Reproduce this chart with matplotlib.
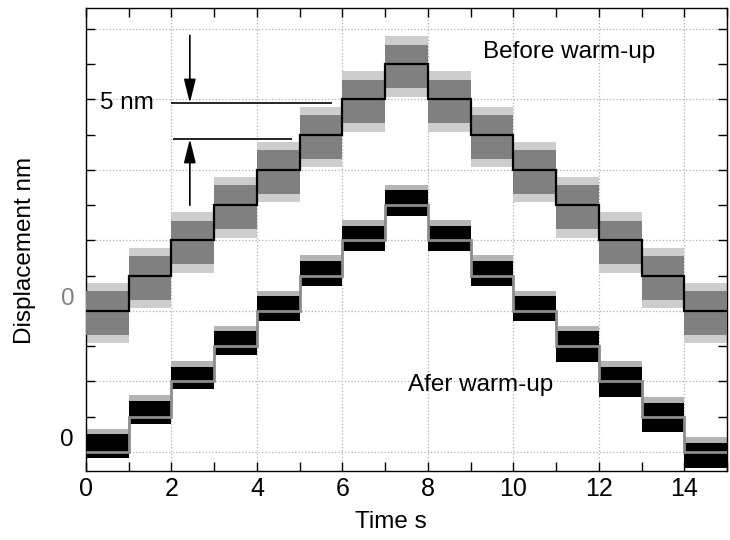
import matplotlib

matplotlib.use("Agg")
import matplotlib.pyplot as plt
import numpy as np
from matplotlib.ticker import MultipleLocator

plt.rcParams["font.family"] = ["Liberation Sans", "DejaVu Sans"]

# step edges (s) and plateau levels (nm) for the two scans
edges = [0, 1, 2, 3, 4, 5, 6, 7, 8, 9, 10, 11, 12, 13, 14, 15]
before_levels = [20, 25, 30, 35, 40, 45, 50, 55, 50, 45, 40, 35, 30, 25, 20]
after_levels = [0, 5, 10, 15, 20, 25, 30, 35, 30, 25, 20, 15, 10, 5, 0]

# noise envelope around each plateau (nm)
before_core = (-3.4, 2.8)
before_spikes = (-4.6, 4.0)
after_up = [2.5, 2.3, 2.1, 2.1, 2.1, 2.1, 2.1, 2.1, 2.1, 2.1, 2.1, 2.1, 2.1, 2.0, 1.3]
after_dn = [0.8, 1.0, 1.1, 1.2, 1.4, 1.5, 1.5, 1.5, 1.5, 1.5, 1.4, 2.2, 2.2, 2.2, 2.3]
after_spike = 0.8

# 5 nm scale marker
marker_top = 49.5
marker_bottom = 44.4
marker_x = 2.43

FS = 17.5

fig = plt.figure(figsize=(7.3, 5.4), dpi=100)
ax = fig.add_axes([86 / 730, 1 - 471 / 540, 641 / 730, 463.5 / 540])

lv_b = np.array(before_levels, dtype=float)
lv_a = np.array(after_levels, dtype=float)

# before warm-up: grey noisy band with the black command staircase
ax.stairs(lv_b + before_spikes[1], edges, baseline=lv_b + before_spikes[0],
          fill=True, color="#cdcdcd", lw=0, zorder=2)
ax.stairs(lv_b + before_core[1], edges, baseline=lv_b + before_core[0],
          fill=True, color="#808080", lw=0, zorder=3)
ax.stairs(lv_b, edges, baseline=None, color="black", lw=1.6, zorder=4)

# after warm-up: black band with the grey command staircase
up = np.array(after_up)
dn = np.array(after_dn)
ax.stairs(lv_a + up + after_spike, edges, baseline=lv_a + up,
          fill=True, color="#b4b4b4", lw=0, zorder=2)
ax.stairs(lv_a + up, edges, baseline=lv_a - dn,
          fill=True, color="black", lw=0, zorder=3)
ax.stairs(lv_a, edges, baseline=None, color="#8c8c8c", lw=2.0, zorder=4)

# 5 nm marker
ax.hlines(marker_top, 1.99, 5.76, color="black", lw=1.2, zorder=5)
ax.hlines(marker_bottom, 2.04, 4.82, color="black", lw=1.2, zorder=5)
arrow = dict(arrowstyle="-|>,head_length=1.45,head_width=0.36", color="black",
             lw=1.2, shrinkA=0, shrinkB=0)
ax.annotate("", xy=(marker_x, marker_top), xytext=(marker_x, 59.1),
            arrowprops=arrow, zorder=5)
ax.annotate("", xy=(marker_x, marker_bottom), xytext=(marker_x, 35.0),
            arrowprops=arrow, zorder=5)
ax.text(0.33, marker_top, "5 nm", fontsize=FS, va="center", ha="left")

ax.text(9.29, 56.7, "Before warm-up", fontsize=FS, va="center", ha="left")
ax.text(7.54, 9.5, "Afer warm-up", fontsize=FS, va="center", ha="left")

# zero markers for each trace
ax.text(-0.42, before_levels[0] + 1.7, "0", color="#808080", fontsize=FS,
        ha="center", va="center", clip_on=False)
ax.text(-0.44, after_levels[0] + 1.7, "0", color="black", fontsize=FS,
        ha="center", va="center", clip_on=False)

ax.set_xlim(0, 15)
ax.set_ylim(-2.7, 63.05)
ax.xaxis.set_major_locator(MultipleLocator(2))
ax.xaxis.set_minor_locator(MultipleLocator(1))
ax.yaxis.set_major_locator(MultipleLocator(10))
ax.yaxis.set_minor_locator(MultipleLocator(5))
ax.tick_params(which="both", direction="in", top=True, right=True,
               length=6.5, width=1.0, labelsize=18, pad=4)
ax.tick_params(axis="y", which="both", labelleft=False)
ax.grid(which="major", linestyle=":", color="#b0b0b0", lw=0.9)
ax.set_axisbelow(True)
for spine in ax.spines.values():
    spine.set_linewidth(1.0)

fig.text(391 / 730, 1 - 522 / 540, "Time s", fontsize=FS, ha="center", va="center")
fig.text(25 / 730, 1 - 250 / 540, "Displacement nm", fontsize=FS,
         rotation=90, ha="center", va="center")

fig.savefig("out.png", dpi=100)
